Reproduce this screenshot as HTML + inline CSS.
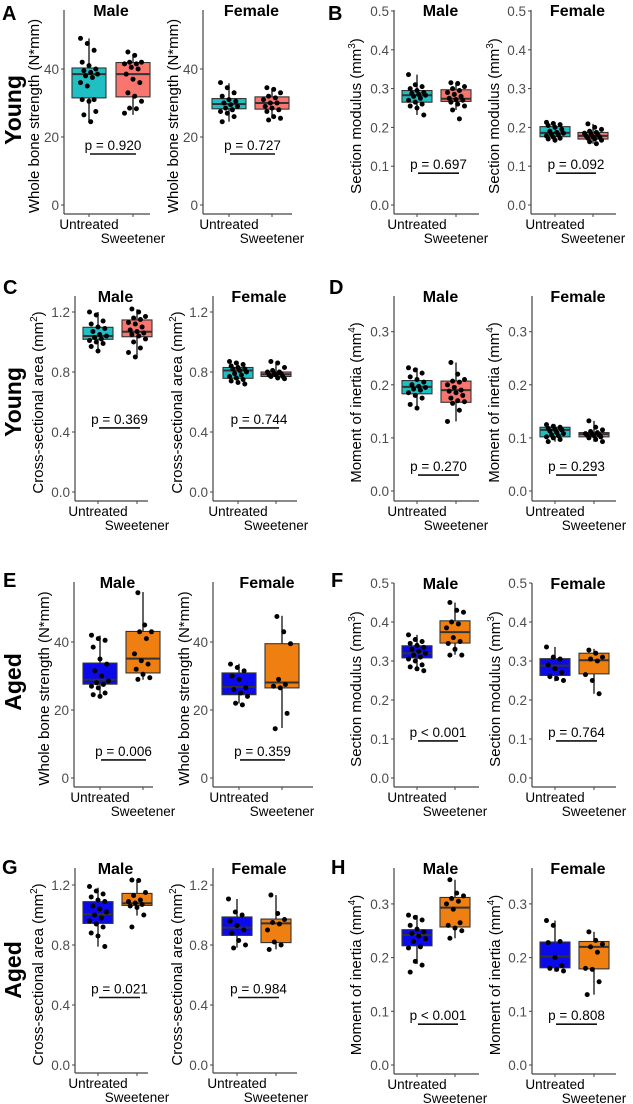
<!DOCTYPE html>
<html><head><meta charset="utf-8">
<style>
html,body{margin:0;padding:0;background:#fff;}
svg{display:block;font-family:"Liberation Sans",Arial,sans-serif;}
</style></head>
<body>
<svg id="fig" width="633" height="1104" viewBox="0 0 633 1104" xmlns="http://www.w3.org/2000/svg"></svg>
<script>
// ---- data: [whiskerLow, q1, median, q3, whiskerHigh] and points per group ----
const groupsLabels = ["Untreated", "Sweetener"];
const A_m_stats = [[24.2,31.5,38.5,40.3,49],[26.5,31.8,38.5,41.9,44.4]];
const A_f_stats = [[24.5,28.3,29.7,31.3,35.8],[25.5,28.2,30,31.8,34.3]];
const A_m_pts = [[49,47.5,45.5,42,41,40,39.5,39,38.5,38,37.5,36,35,31,31,30.5,27.5,26.5,24.5],[45,44,42,42,41.5,41.5,40.5,40,38.5,37,36,33,32,30.5,28.5,28.3,27]];
const A_f_pts = [[36,34.5,33,32,31,30.5,30,29.5,29,28.5,28,27.5,27,26,24.5],[34.5,34,33,32,31.5,31,30,30,29,28.5,28,27.5,26,25.5,25]];
const B_m_stats = [[0.232,0.265,0.283,0.295,0.336],[0.245,0.267,0.274,0.297,0.315]];
const B_f_stats = [[0.167,0.176,0.186,0.202,0.213],[0.158,0.170,0.178,0.187,0.209]];
const B_m_pts = [[0.336,0.31,0.305,0.3,0.295,0.29,0.288,0.285,0.283,0.28,0.275,0.27,0.265,0.26,0.255,0.25,0.232],[0.315,0.313,0.305,0.3,0.295,0.29,0.285,0.28,0.275,0.272,0.27,0.265,0.26,0.255,0.245,0.222]];
const B_f_pts = [[0.213,0.21,0.207,0.205,0.2,0.195,0.19,0.187,0.185,0.182,0.18,0.178,0.175,0.172,0.17,0.167],[0.209,0.2,0.195,0.19,0.187,0.185,0.182,0.18,0.178,0.176,0.174,0.172,0.17,0.167,0.163,0.158]];
const C_m_stats = [[0.94,1.018,1.04,1.098,1.20],[0.90,1.035,1.068,1.147,1.218]];
const C_f_stats = [[0.72,0.758,0.81,0.83,0.87],[0.755,0.77,0.785,0.80,0.87]];
const C_m_pts = [[1.2,1.18,1.14,1.12,1.1,1.09,1.07,1.05,1.04,1.03,1.02,1.01,1.0,0.99,0.97,0.94],[1.22,1.2,1.17,1.16,1.15,1.13,1.12,1.1,1.08,1.07,1.06,1.05,1.04,1.02,1.0,0.96,0.93,0.9]];
const C_f_pts = [[0.87,0.86,0.85,0.84,0.83,0.82,0.82,0.81,0.8,0.79,0.78,0.77,0.76,0.75,0.74,0.73,0.72],[0.87,0.86,0.83,0.81,0.8,0.8,0.79,0.79,0.78,0.78,0.77,0.77,0.76,0.755]];
const D_m_stats = [[0.156,0.183,0.196,0.208,0.232],[0.131,0.167,0.19,0.207,0.242]];
const D_f_stats = [[0.093,0.102,0.115,0.12,0.125],[0.093,0.102,0.107,0.11,0.132]];
const D_m_pts = [[0.232,0.228,0.222,0.215,0.21,0.205,0.2,0.197,0.195,0.192,0.19,0.185,0.18,0.175,0.163,0.156],[0.242,0.22,0.21,0.207,0.205,0.2,0.195,0.19,0.188,0.185,0.18,0.175,0.17,0.168,0.165,0.152,0.131]];
const D_f_pts = [[0.125,0.122,0.12,0.118,0.116,0.115,0.113,0.11,0.108,0.106,0.104,0.102,0.1,0.097,0.093],[0.132,0.12,0.115,0.112,0.11,0.108,0.107,0.106,0.105,0.104,0.102,0.1,0.097,0.093]];
const E_m_stats = [[24.3,27.6,28.9,33.8,41.9],[28.9,30.9,35.1,43.1,54.7]];
const E_f_stats = [[21.9,24.5,26.8,30.9,33.6],[14.7,26.5,28.1,39.5,47.7]];
const E_m_pts = [[42,41,40.5,38.5,35,33.5,31.5,30,28.5,28,27.5,27,26.5,25,24.5,24],[54.5,45,43,43,41,36.5,34.5,33.5,32,30.5,29.5,29]];
const E_f_pts = [[33.5,32.5,31.5,30,29,26.5,26,25,24,22,21.5],[47.5,43,39.5,29,27.5,27,26.5,19,14.5]];
const F_m_stats = [[0.278,0.308,0.32,0.339,0.367],[0.316,0.346,0.374,0.403,0.45]];
const F_f_stats = [[0.248,0.263,0.288,0.306,0.336],[0.216,0.267,0.302,0.32,0.331]];
const F_m_pts = [[0.367,0.355,0.35,0.345,0.34,0.335,0.33,0.325,0.32,0.315,0.31,0.305,0.3,0.29,0.285,0.28,0.275],[0.45,0.43,0.425,0.4,0.395,0.385,0.36,0.35,0.345,0.33,0.315,0.315]];
const F_f_pts = [[0.336,0.31,0.305,0.29,0.28,0.27,0.26,0.255,0.25],[0.328,0.32,0.31,0.305,0.3,0.265,0.25,0.216]];
const G_m_stats = [[0.789,0.944,1.004,1.089,1.182],[0.996,1.064,1.078,1.144,1.233]];
const G_f_stats = [[0.782,0.864,0.916,0.987,1.107],[0.771,0.816,0.944,0.973,1.133]];
const G_m_pts = [[1.19,1.16,1.14,1.12,1.1,1.09,1.06,1.04,1.02,1.0,0.98,0.96,0.94,0.92,0.88,0.86,0.79],[1.233,1.23,1.15,1.13,1.1,1.09,1.08,1.07,1.06,1.05,1.0,0.92]];
const G_f_pts = [[1.107,1.02,1.0,0.96,0.93,0.9,0.88,0.83,0.8,0.78],[1.133,1.01,0.97,0.95,0.94,0.9,0.82,0.8,0.77]];
const H_m_stats = [[0.188,0.222,0.242,0.252,0.279],[0.236,0.257,0.293,0.312,0.345]];
const H_f_stats = [[0.174,0.181,0.202,0.229,0.269],[0.131,0.179,0.22,0.23,0.248]];
const H_m_pts = [[0.279,0.275,0.27,0.26,0.253,0.248,0.245,0.24,0.235,0.23,0.22,0.218,0.193,0.186,0.173],[0.345,0.32,0.315,0.31,0.305,0.3,0.29,0.265,0.26,0.255,0.25,0.236]];
const H_f_pts = [[0.269,0.26,0.23,0.228,0.2,0.185,0.18,0.178,0.175],[0.248,0.232,0.225,0.22,0.21,0.18,0.178,0.155,0.131]];
const pValues = {A:["p = 0.920","p = 0.727"],B:["p = 0.697","p = 0.092"],C:["p = 0.369","p = 0.744"],D:["p = 0.270","p = 0.293"],E:["p = 0.006","p = 0.359"],F:["p < 0.001","p = 0.764"],G:["p = 0.021","p = 0.984"],H:["p < 0.001","p = 0.808"]};
const ticksStrength = [0,20,40];
const ticksModulus = [0,0.1,0.2,0.3,0.4,0.5];
const ticksArea = [0,0.4,0.8,1.2];
const ticksInertia = [0,0.1,0.2,0.3];

const NS="http://www.w3.org/2000/svg";
const svg=document.getElementById('fig');
function mk(tag, attrs, name, parent){
  const el=document.createElementNS(NS,tag);
  for(const k in attrs) el.setAttribute(k,attrs[k]);
  
  
  (parent||svg).appendChild(el);
  return el;
}
const young=["#1FBFC4","#F8766D"], aged=["#0A0AEA","#F07F12"];
const LX={str:"Whole bone strength (N*mm)",mod:["Section modulus (mm","3",")"],area:["Cross-sectional area (mm","2",")"],inr:["Moment of inertia (mm","4",")"]};
const xAB={m:{ax:394,c:[417,456],end:479,lx:360},f:{ax:531,c:[555,593],end:616,lx:498}};
const panels=[
 {id:"A",lab:LX.str,ticks:ticksStrength,dec:0,top:10,bot:214,y0:205,k:3.4,bw:34,pl:15,col:young,m:{ax:64,c:[89,133],end:150,lx:38},f:{ax:203,c:[229,272],end:292,lx:177},st:[A_m_stats,A_f_stats],pts:[A_m_pts,A_f_pts],lp:[2,20]},
 {id:"B",lab:LX.mod,ticks:ticksModulus,dec:1,top:10,bot:214,y0:205,k:388,bw:30,pl:0.082,col:young,m:xAB.m,f:xAB.f,st:[B_m_stats,B_f_stats],pts:[B_m_pts,B_f_pts],lp:[328,20]},
 {id:"C",lab:LX.area,ticks:ticksArea,dec:1,top:296,bot:501,y0:492,k:150,bw:30,pl:0.427,col:young,m:{ax:75,c:[98,137],end:148,lx:42},f:{ax:213,c:[238,276],end:297,lx:181},st:[C_m_stats,C_f_stats],pts:[C_m_pts,C_f_pts],lp:[3,294]},
 {id:"D",lab:LX.inr,ticks:ticksInertia,dec:1,top:296,bot:501,y0:491,k:531,bw:30,pl:0.03,col:young,m:{ax:394,c:[417,456],end:479,lx:360},f:{ax:532,c:[555,594],end:616,lx:498},st:[D_m_stats,D_f_stats],pts:[D_m_pts,D_f_pts],lp:[329,294]},
 {id:"E",lab:LX.str,ticks:ticksStrength,dec:0,top:582,bot:787,y0:778,k:3.4,bw:34,pl:5.3,col:aged,m:{ax:74,c:[100,143],end:153,lx:48},f:{ax:213,c:[239,282],end:313,lx:188},st:[E_m_stats,E_f_stats],pts:[E_m_pts,E_f_pts],lp:[3,587]},
 {id:"F",lab:LX.mod,ticks:ticksModulus,dec:1,top:583,bot:787,y0:778,k:390,bw:30,pl:0.095,col:aged,m:{ax:394,c:[417,455],end:479,lx:360},f:{ax:532,c:[555,594],end:616,lx:499},st:[F_m_stats,F_f_stats],pts:[F_m_pts,F_f_pts],lp:[331,587]},
 {id:"G",lab:LX.area,ticks:ticksArea,dec:1,top:868,bot:1073,y0:1065,k:150,bw:30,pl:0.45,col:aged,m:{ax:75,c:[98,137],end:148,lx:42},f:{ax:213,c:[237,276],end:297,lx:181},st:[G_m_stats,G_f_stats],pts:[G_m_pts,G_f_pts],lp:[2,874]},
 {id:"H",lab:LX.inr,ticks:ticksInertia,dec:1,top:868,bot:1074,y0:1065,k:537,bw:30,pl:0.076,col:aged,m:{ax:394,c:[417,455],end:479,lx:360},f:{ax:532,c:[555,594],end:616,lx:499},st:[H_m_stats,H_f_stats],pts:[H_m_pts,H_f_pts],lp:[331,874]}
];
function drawSub(p, g, sex, si){
  const y=v=>p.y0 - v*p.k;
  const G=mk('g',{},'subplot-'+p.id+'-'+(si?'female':'male'));
  const t=mk('text',{x:(g.ax+g.end)/2+4,y:p.top+6,'text-anchor':'middle','font-size':16,'font-weight':'bold',fill:'#000'},'panel-title',G);
  t.textContent=sex;
  mk('line',{x1:g.ax,y1:p.top,x2:g.ax,y2:p.bot,stroke:'#444','stroke-width':1.2},'y-axis-line',G);
  mk('line',{x1:g.ax,y1:p.bot,x2:g.end,y2:p.bot,stroke:'#444','stroke-width':1.2},'x-axis-line',G);
  p.ticks.forEach(v=>{
    mk('line',{x1:g.ax-3,y1:y(v),x2:g.ax,y2:y(v),stroke:'#444','stroke-width':1},'y-tick',G);
    const tl=mk('text',{x:g.ax-5,y:y(v)+5,'text-anchor':'end','font-size':13.5,fill:'#4d4d4d'},'y-tick-label',G);
    tl.textContent=v.toFixed(p.dec);
  });
  const yl=mk('text',{transform:`translate(${g.lx+1},${(p.top+p.bot)/2+4}) rotate(-90)`,'text-anchor':'middle','font-size':15,fill:'#000'},'y-axis-title',G);
  if(typeof p.lab==='string') yl.textContent=p.lab;
  else{
    const a=mk('tspan',{},'y-title-text',yl); a.textContent=p.lab[0].replace('(',' (');
    const b=mk('tspan',{dy:-6,'font-size':10},'y-title-superscript',yl); b.textContent=p.lab[1];
    const c=mk('tspan',{dy:6},'y-title-close',yl); c.textContent=p.lab[2];
  }
  [0,1].forEach(i=>{
    const cx=g.c[i], s=p.st[si][i];
    mk('line',{x1:cx,y1:p.bot,x2:cx,y2:p.bot+3,stroke:'#444'},'x-tick',G);
    const xl=mk('text',{x:cx,y:p.bot+(i?29:15),'text-anchor':'middle','font-size':13.5,fill:'#000'},'x-tick-label',G);
    xl.textContent=groupsLabels[i];
    mk('line',{x1:cx,y1:y(s[0]),x2:cx,y2:y(s[4]),stroke:'#111','stroke-width':1.3},'whisker',G);
    mk('rect',{x:cx-p.bw/2,y:y(s[3]),width:p.bw,height:Math.max(1,y(s[1])-y(s[3])),fill:p.col[i],stroke:'#333','stroke-width':1.1},'box-'+groupsLabels[i].toLowerCase(),G);
    mk('line',{x1:cx-p.bw/2,y1:y(s[2]),x2:cx+p.bw/2,y2:y(s[2]),stroke:'#333','stroke-width':2},'median-line',G);
    p.pts[si][i].forEach((v,j)=>{
      const off=(((j*37+i*13)%11)-5)*1.7;
      mk('circle',{cx:cx+off,cy:y(v),r:2.5,fill:'#000'},'data-point',G);
    });
  });
  const ly=y(p.pl);
  mk('line',{x1:g.c[0]+1,y1:ly,x2:g.c[1]+3,y2:ly,stroke:'#111','stroke-width':1.6},'p-value-bracket',G);
  const pt=mk('text',{x:(g.c[0]+g.c[1])/2+2,y:ly-4,'text-anchor':'middle','font-size':13.5,fill:'#000'},'p-value-label',G);
  pt.textContent=pValues[p.id][si];
}
panels.forEach(p=>{
  const L=mk('text',{x:p.lp[0],y:p.lp[1],'font-size':20,'font-weight':'bold',fill:'#000'},'panel-letter-'+p.id);
  L.textContent=p.id;
  drawSub(p,p.m,"Male",0);
  drawSub(p,p.f,"Female",1);
});
const rows=[["Young",110],["Young",402],["Aged",682],["Aged",970]];
rows.forEach(r=>{
  const t=mk('text',{transform:`translate(21,${r[1]}) rotate(-90)`,'text-anchor':'middle','font-size':23,'font-weight':'bold',fill:'#000'},'row-label-'+r[0].toLowerCase());
  t.textContent=r[0];
});
</script>
</body></html>
